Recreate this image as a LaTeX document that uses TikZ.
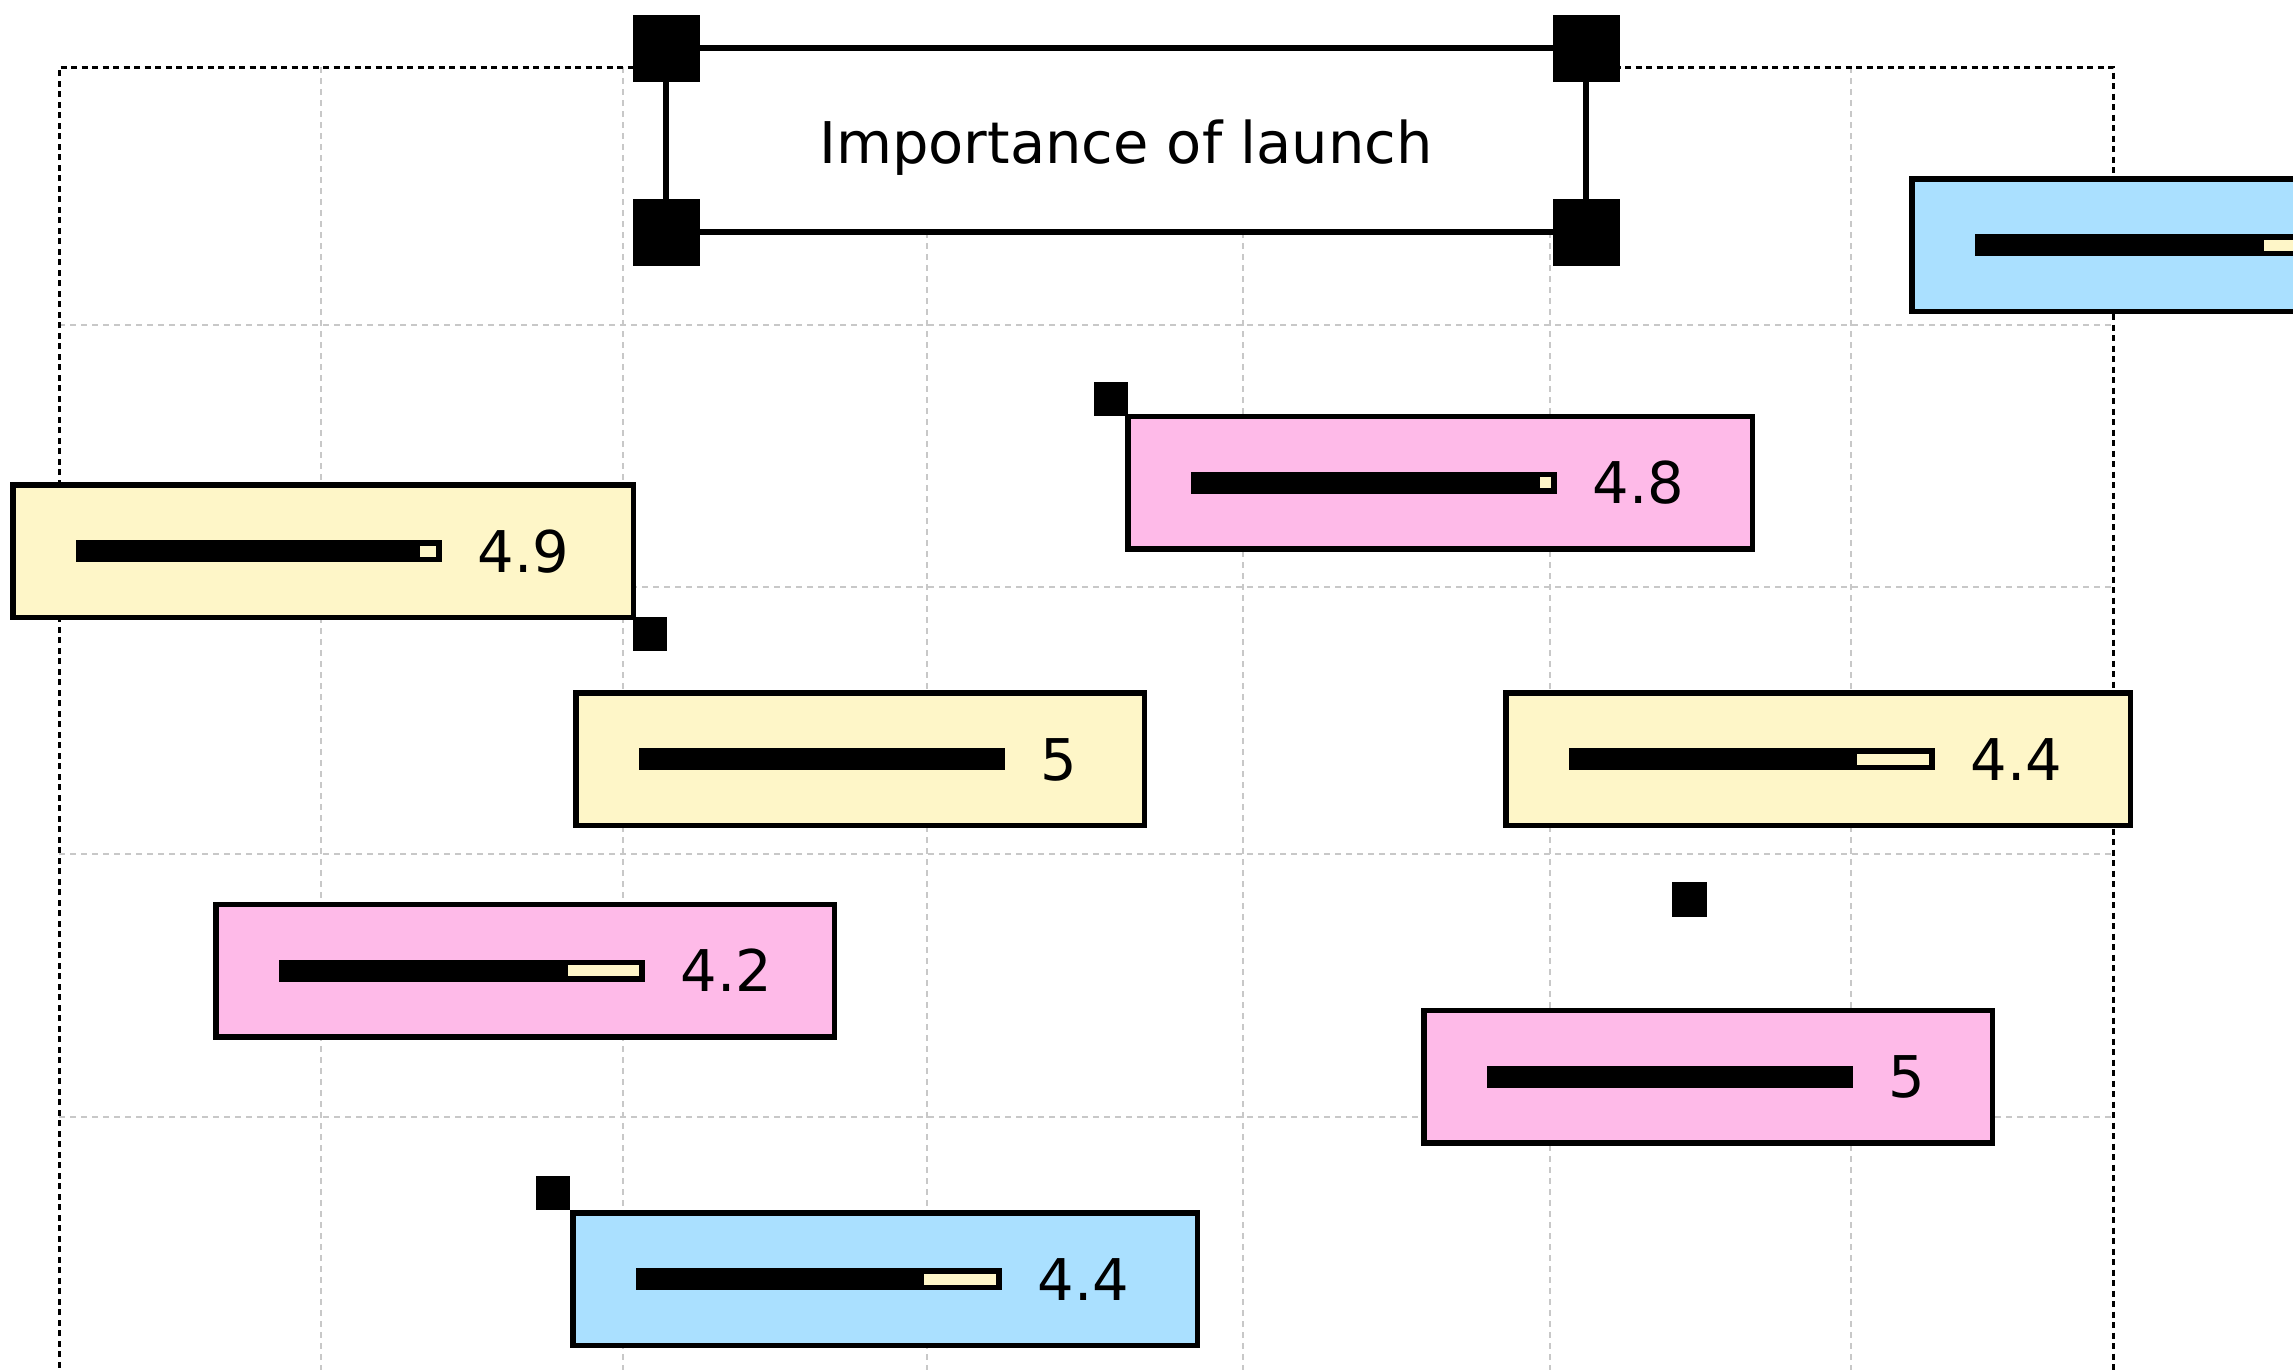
\documentclass[tikz,border=0pt]{standalone}
\usepackage{fontspec}
\setmainfont{DejaVu Sans}

\definecolor{gridgray}{RGB}{200,200,200}
\definecolor{cardyellow}{RGB}{254,246,200}
\definecolor{cardpink}{RGB}{254,186,232}
\definecolor{cardblue}{RGB}{170,224,255}

% #1 name, #2 centre x, #3 centre y, #4 outer width, #5 fill,
% #6 width of the unfilled part of the bar, #7 score
\newcommand\ratingcard[7]{%
  \node[card, fill=#5, minimum width=#4pt-5.5pt] (#1) at (#2,#3) {};
  \fill ([shift={(63.25,-11)}]#1.west) rectangle ++(366,22);
  \ifdim #6pt>0pt
    \fill[cardyellow] ([shift={(423.25-#6,-5.5)}]#1.west) rectangle ++(#6,11);
  \fi
  \node[cardlabel, anchor=base west] (#1-score)
    at ([shift={(464.5,21)}]#1.west) {#7};
}

\begin{document}
\begin{tikzpicture}[x=1pt,y=-1pt,
  gridline/.style={draw=gridgray, line width=2.2pt, dash pattern=on 6pt off 5pt},
  frameline/.style={draw=black, line width=3pt, dash pattern=on 6pt off 4.5pt},
  card/.style={rectangle, draw=black, line width=5.5pt, minimum height=132.5pt,
    inner sep=0pt, outer sep=0pt},
  cardlabel/.style={inner sep=0pt, font=\fontsize{57.5}{62}\selectfont},
  marker/.style={fill=black},
]
\useasboundingbox (0,0) rectangle (2293,1369);
\fill[white] (0,0) rectangle (2293,1369);

% background grid
\foreach \gx in {321,623,927,1243,1550,1851}
  \draw[gridline] (\gx,67) -- (\gx,1400);
\foreach \gy in {325,587,854,1117}
  \draw[gridline] (59,\gy) -- (2113,\gy);
\draw[frameline] (59,1420) -- (59,67) -- (2113,67) -- (2113,1420);

% title with corner handles
\node[rectangle, draw=black, fill=white, line width=5.5pt, minimum width=920pt,
  minimum height=184pt, inner sep=0pt, outer sep=0pt] (title) at (1126,140) {};
\foreach \c in {north west,north east,south west,south east}
  \fill[marker] ([shift={(-33.5,-33.5)}]title.\c) rectangle ++(67,67);
\node[cardlabel, anchor=base] (title-text) at (1126,163) {Importance of launch};

% score cards
\ratingcard{topright}{2224}{245}{630}{cardblue}{71}{}
\ratingcard{card48}{1440}{482.5}{630}{cardpink}{11}{4.8}
\ratingcard{card49}{323}{551}{626}{cardyellow}{16}{4.9}
\ratingcard{card5a}{860}{759}{574}{cardyellow}{0}{5}
\ratingcard{card44a}{1818}{759}{630}{cardyellow}{72}{4.4}
\ratingcard{card42}{525}{970.5}{624}{cardpink}{71}{4.2}
\ratingcard{card5b}{1708}{1076.5}{574}{cardpink}{0}{5}
\ratingcard{card44b}{885}{1279}{630}{cardblue}{72}{4.4}

% handle squares
\fill[marker] (card48.north west) rectangle ++(-34,-34);
\fill[marker] (card49.south east) rectangle ++(34,34);
\fill[marker] ([shift={(-2.75,-2.75)}]card44b.north west) rectangle ++(-34,-34);
\fill[marker] (1672,882) rectangle ++(35,35);
\end{tikzpicture}
\end{document}
